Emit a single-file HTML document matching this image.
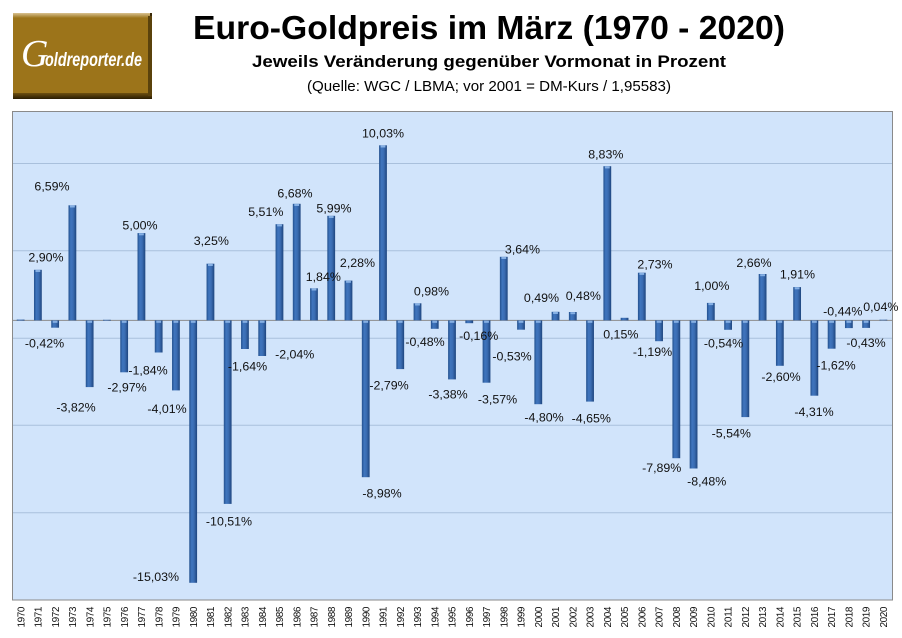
<!DOCTYPE html>
<html>
<head>
<meta charset="utf-8">
<style>
html,body{margin:0;padding:0;background:#fff;}
svg{display:block;}
.t{font-family:"Liberation Sans",sans-serif;}
.dl{font-family:"Liberation Sans",sans-serif;font-size:12.4px;fill:#111;text-anchor:middle;}
.yr{font-family:"Liberation Sans",sans-serif;font-size:10px;fill:#111;}
</style>
</head>
<body>
<svg width="902" height="638" viewBox="0 0 902 638" xmlns="http://www.w3.org/2000/svg">
<defs>
<linearGradient id="bar" x1="0" y1="0" x2="1" y2="0">
<stop offset="0" stop-color="#23508d"/>
<stop offset="0.3" stop-color="#3f75be"/>
<stop offset="0.6" stop-color="#3a6cb2"/>
<stop offset="1" stop-color="#1e457e"/>
</linearGradient>
<linearGradient id="logoTop" x1="0" y1="0" x2="0" y2="1">
<stop offset="0" stop-color="#d9c291"/>
<stop offset="1" stop-color="#9c741a"/>
</linearGradient>
<linearGradient id="logoBot" x1="0" y1="0" x2="0" y2="1">
<stop offset="0" stop-color="#6e5010"/>
<stop offset="1" stop-color="#2a1d02"/>
</linearGradient>
</defs>

<!-- Logo -->
<rect x="13" y="13" width="139" height="86" fill="#3a2a08"/>
<rect x="13" y="13" width="137" height="81" fill="#9c741a"/>
<rect x="13" y="13" width="137" height="5" fill="url(#logoTop)"/>
<rect x="13" y="93" width="139" height="6" fill="url(#logoBot)"/>
<rect x="148" y="16" width="4" height="80" fill="#5a420c"/>
<text x="21" y="66" fill="#fff" style="font-family:'Liberation Serif',serif;font-style:italic;font-size:38px;">G</text>
<text x="45" y="66" fill="#fff" class="t" style="font-style:italic;font-weight:bold;font-size:19px;" textLength="97" lengthAdjust="spacingAndGlyphs">oldreporter.de</text>

<!-- Titles -->
<text x="193" y="39" class="t" style="font-weight:bold;font-size:33px;" textLength="592" lengthAdjust="spacingAndGlyphs">Euro-Goldpreis im März (1970 - 2020)</text>
<text x="252" y="67" class="t" style="font-weight:bold;font-size:16.5px;" textLength="474" lengthAdjust="spacingAndGlyphs">Jeweils Veränderung gegenüber Vormonat in Prozent</text>
<text x="307" y="91" class="t" style="font-size:14.5px;" textLength="364" lengthAdjust="spacingAndGlyphs">(Quelle: WGC / LBMA; vor 2001 = DM-Kurs / 1,95583)</text>

<!-- Plot area -->
<rect x="12.5" y="111.5" width="880" height="488.5" fill="#d1e4fb" stroke="#8a8a8a" stroke-width="1"/>
<g stroke="#a9c0dc" stroke-width="1">
<line x1="13" y1="163.5" x2="892" y2="163.5"/>
<line x1="13" y1="250.8" x2="892" y2="250.8"/>
<line x1="13" y1="338.3" x2="892" y2="338.3"/>
<line x1="13" y1="425.2" x2="892" y2="425.2"/>
<line x1="13" y1="512.8" x2="892" y2="512.8"/>
</g>
<line x1="13" y1="320.4" x2="892" y2="320.4" stroke="#8c8c8c" stroke-width="1"/>

<!-- Bars -->
<g fill="url(#bar)">
<rect x="16.73" y="319.6" width="7.8" height="1"/>
<rect x="33.98" y="269.8" width="7.8" height="50.6"/>
<rect x="51.24" y="320.4" width="7.8" height="7.3"/>
<rect x="68.49" y="205.3" width="7.8" height="115.1"/>
<rect x="85.75" y="320.4" width="7.8" height="66.7"/>
<rect x="103.0" y="319.8" width="7.8" height="0.8"/>
<rect x="120.26" y="320.4" width="7.8" height="51.9"/>
<rect x="137.52" y="233.1" width="7.8" height="87.3"/>
<rect x="154.77" y="320.4" width="7.8" height="32.1"/>
<rect x="172.03" y="320.4" width="7.8" height="70.0"/>
<rect x="189.28" y="320.4" width="7.8" height="262.4"/>
<rect x="206.54" y="263.7" width="7.8" height="56.7"/>
<rect x="223.79" y="320.4" width="7.8" height="183.5"/>
<rect x="241.05" y="320.4" width="7.8" height="28.6"/>
<rect x="258.3" y="320.4" width="7.8" height="35.6"/>
<rect x="275.56" y="224.2" width="7.8" height="96.2"/>
<rect x="292.81" y="203.8" width="7.8" height="116.6"/>
<rect x="310.07" y="288.3" width="7.8" height="32.1"/>
<rect x="327.32" y="215.8" width="7.8" height="104.6"/>
<rect x="344.58" y="280.6" width="7.8" height="39.8"/>
<rect x="361.83" y="320.4" width="7.8" height="156.8"/>
<rect x="379.09" y="145.3" width="7.8" height="175.1"/>
<rect x="396.34" y="320.4" width="7.8" height="48.7"/>
<rect x="413.6" y="303.3" width="7.8" height="17.1"/>
<rect x="430.85" y="320.4" width="7.8" height="8.4"/>
<rect x="448.1" y="320.4" width="7.8" height="59.0"/>
<rect x="465.36" y="320.4" width="7.8" height="2.8"/>
<rect x="482.62" y="320.4" width="7.8" height="62.3"/>
<rect x="499.87" y="256.8" width="7.8" height="63.6"/>
<rect x="517.13" y="320.4" width="7.8" height="9.3"/>
<rect x="534.38" y="320.4" width="7.8" height="83.8"/>
<rect x="551.64" y="311.8" width="7.8" height="8.6"/>
<rect x="568.89" y="312.0" width="7.8" height="8.4"/>
<rect x="586.15" y="320.4" width="7.8" height="81.2"/>
<rect x="603.4" y="166.2" width="7.8" height="154.2"/>
<rect x="620.66" y="317.8" width="7.8" height="2.6"/>
<rect x="637.91" y="272.7" width="7.8" height="47.7"/>
<rect x="655.17" y="320.4" width="7.8" height="20.8"/>
<rect x="672.42" y="320.4" width="7.8" height="137.8"/>
<rect x="689.68" y="320.4" width="7.8" height="148.1"/>
<rect x="706.93" y="302.9" width="7.8" height="17.5"/>
<rect x="724.19" y="320.4" width="7.8" height="9.4"/>
<rect x="741.44" y="320.4" width="7.8" height="96.7"/>
<rect x="758.7" y="274.0" width="7.8" height="46.4"/>
<rect x="775.95" y="320.4" width="7.8" height="45.4"/>
<rect x="793.21" y="287.1" width="7.8" height="33.3"/>
<rect x="810.46" y="320.4" width="7.8" height="75.3"/>
<rect x="827.72" y="320.4" width="7.8" height="28.3"/>
<rect x="844.97" y="320.4" width="7.8" height="7.7"/>
<rect x="862.23" y="320.4" width="7.8" height="7.5"/>
<rect x="879.48" y="319.7" width="7.8" height="0.7"/>
</g>

<!-- Bar caps -->
<g fill="#86b0e4">
<rect x="35.5" y="270" width="4.8" height="2"/>
<rect x="52.7" y="320.8" width="4.8" height="2"/>
<rect x="70" y="205.5" width="4.8" height="2"/>
<rect x="87.3" y="320.8" width="4.8" height="2"/>
<rect x="121.8" y="320.8" width="4.8" height="2"/>
<rect x="139" y="233.3" width="4.8" height="2"/>
<rect x="156.3" y="320.8" width="4.8" height="2"/>
<rect x="173.5" y="320.8" width="4.8" height="2"/>
<rect x="190.8" y="320.8" width="4.8" height="2"/>
<rect x="208" y="264" width="4.8" height="2"/>
<rect x="225.3" y="320.8" width="4.8" height="2"/>
<rect x="242.6" y="320.8" width="4.8" height="2"/>
<rect x="259.8" y="320.8" width="4.8" height="2"/>
<rect x="277.1" y="224.4" width="4.8" height="2"/>
<rect x="294.3" y="204" width="4.8" height="2"/>
<rect x="311.6" y="288.5" width="4.8" height="2"/>
<rect x="328.8" y="216" width="4.8" height="2"/>
<rect x="346.1" y="280.8" width="4.8" height="2"/>
<rect x="363.3" y="320.8" width="4.8" height="2"/>
<rect x="380.6" y="145.5" width="4.8" height="2"/>
<rect x="397.8" y="320.8" width="4.8" height="2"/>
<rect x="415.1" y="303.5" width="4.8" height="2"/>
<rect x="432.3" y="320.8" width="4.8" height="2"/>
<rect x="449.6" y="320.8" width="4.8" height="2"/>
<rect x="484.1" y="320.8" width="4.8" height="2"/>
<rect x="501.4" y="257" width="4.8" height="2"/>
<rect x="518.6" y="320.8" width="4.8" height="2"/>
<rect x="535.9" y="320.8" width="4.8" height="2"/>
<rect x="553.1" y="312" width="4.8" height="2"/>
<rect x="570.4" y="312.2" width="4.8" height="2"/>
<rect x="587.6" y="320.8" width="4.8" height="2"/>
<rect x="604.9" y="166.4" width="4.8" height="2"/>
<rect x="639.4" y="272.9" width="4.8" height="2"/>
<rect x="656.7" y="320.8" width="4.8" height="2"/>
<rect x="673.9" y="320.8" width="4.8" height="2"/>
<rect x="691.2" y="320.8" width="4.8" height="2"/>
<rect x="708.4" y="303.1" width="4.8" height="2"/>
<rect x="725.7" y="320.8" width="4.8" height="2"/>
<rect x="742.9" y="320.8" width="4.8" height="2"/>
<rect x="760.2" y="274.2" width="4.8" height="2"/>
<rect x="777.4" y="320.8" width="4.8" height="2"/>
<rect x="794.7" y="287.3" width="4.8" height="2"/>
<rect x="812" y="320.8" width="4.8" height="2"/>
<rect x="829.2" y="320.8" width="4.8" height="2"/>
<rect x="846.5" y="320.8" width="4.8" height="2"/>
<rect x="863.7" y="320.8" width="4.8" height="2"/>
</g>

<!-- Data labels -->
<g class="dl">
<text x="46" y="261.3">2,90%</text>
<text x="44.5" y="347.3">-0,42%</text>
<text x="52" y="190.3">6,59%</text>
<text x="76" y="411.3">-3,82%</text>
<text x="127" y="391.3">-2,97%</text>
<text x="140" y="229.3">5,00%</text>
<text x="148" y="374.3">-1,84%</text>
<text x="167" y="413">-4,01%</text>
<text x="156" y="581">-15,03%</text>
<text x="211.3" y="245">3,25%</text>
<text x="229" y="525.3">-10,51%</text>
<text x="247.5" y="370.3">-1,64%</text>
<text x="294.7" y="358.3">-2,04%</text>
<text x="265.8" y="216">5,51%</text>
<text x="295" y="197.6">6,68%</text>
<text x="323.3" y="281">1,84%</text>
<text x="334" y="212.6">5,99%</text>
<text x="357.5" y="267">2,28%</text>
<text x="382" y="497.6">-8,98%</text>
<text x="383" y="137.6">10,03%</text>
<text x="389" y="389.3">-2,79%</text>
<text x="431.5" y="295.3">0,98%</text>
<text x="425" y="346">-0,48%</text>
<text x="448" y="398.6">-3,38%</text>
<text x="478.7" y="340">-0,16%</text>
<text x="497.5" y="403.6">-3,57%</text>
<text x="522.5" y="253.3">3,64%</text>
<text x="512" y="360.3">-0,53%</text>
<text x="544" y="421.6">-4,80%</text>
<text x="541.5" y="302">0,49%</text>
<text x="583.3" y="300">0,48%</text>
<text x="591.3" y="422.6">-4,65%</text>
<text x="605.8" y="158.3">8,83%</text>
<text x="620.8" y="338.6">0,15%</text>
<text x="655" y="268.3">2,73%</text>
<text x="652.5" y="356">-1,19%</text>
<text x="661.7" y="472">-7,89%</text>
<text x="706.7" y="485.3">-8,48%</text>
<text x="711.8" y="290">1,00%</text>
<text x="723.5" y="347.5">-0,54%</text>
<text x="731.3" y="437.6">-5,54%</text>
<text x="754" y="267">2,66%</text>
<text x="781" y="381">-2,60%</text>
<text x="797.5" y="278.6">1,91%</text>
<text x="814" y="416">-4,31%</text>
<text x="836" y="369.3">-1,62%</text>
<text x="842.8" y="315.3">-0,44%</text>
<text x="866" y="347">-0,43%</text>
<text x="880.8" y="311">0,04%</text>
</g>

<!-- Year labels -->
<g class="yr">
<text transform="translate(24.3,627.5) rotate(-90)" textLength="21">1970</text>
<text transform="translate(41.5,627.5) rotate(-90)" textLength="21">1971</text>
<text transform="translate(58.8,627.5) rotate(-90)" textLength="21">1972</text>
<text transform="translate(76,627.5) rotate(-90)" textLength="21">1973</text>
<text transform="translate(93.3,627.5) rotate(-90)" textLength="21">1974</text>
<text transform="translate(110.5,627.5) rotate(-90)" textLength="21">1975</text>
<text transform="translate(127.8,627.5) rotate(-90)" textLength="21">1976</text>
<text transform="translate(145,627.5) rotate(-90)" textLength="21">1977</text>
<text transform="translate(162.3,627.5) rotate(-90)" textLength="21">1978</text>
<text transform="translate(179.5,627.5) rotate(-90)" textLength="21">1979</text>
<text transform="translate(196.8,627.5) rotate(-90)" textLength="21">1980</text>
<text transform="translate(214,627.5) rotate(-90)" textLength="21">1981</text>
<text transform="translate(231.3,627.5) rotate(-90)" textLength="21">1982</text>
<text transform="translate(248.6,627.5) rotate(-90)" textLength="21">1983</text>
<text transform="translate(265.8,627.5) rotate(-90)" textLength="21">1984</text>
<text transform="translate(283.1,627.5) rotate(-90)" textLength="21">1985</text>
<text transform="translate(300.3,627.5) rotate(-90)" textLength="21">1986</text>
<text transform="translate(317.6,627.5) rotate(-90)" textLength="21">1987</text>
<text transform="translate(334.8,627.5) rotate(-90)" textLength="21">1988</text>
<text transform="translate(352.1,627.5) rotate(-90)" textLength="21">1989</text>
<text transform="translate(369.3,627.5) rotate(-90)" textLength="21">1990</text>
<text transform="translate(386.6,627.5) rotate(-90)" textLength="21">1991</text>
<text transform="translate(403.8,627.5) rotate(-90)" textLength="21">1992</text>
<text transform="translate(421.1,627.5) rotate(-90)" textLength="21">1993</text>
<text transform="translate(438.4,627.5) rotate(-90)" textLength="21">1994</text>
<text transform="translate(455.6,627.5) rotate(-90)" textLength="21">1995</text>
<text transform="translate(472.9,627.5) rotate(-90)" textLength="21">1996</text>
<text transform="translate(490.1,627.5) rotate(-90)" textLength="21">1997</text>
<text transform="translate(507.4,627.5) rotate(-90)" textLength="21">1998</text>
<text transform="translate(524.6,627.5) rotate(-90)" textLength="21">1999</text>
<text transform="translate(541.9,627.5) rotate(-90)" textLength="21">2000</text>
<text transform="translate(559.1,627.5) rotate(-90)" textLength="21">2001</text>
<text transform="translate(576.4,627.5) rotate(-90)" textLength="21">2002</text>
<text transform="translate(593.6,627.5) rotate(-90)" textLength="21">2003</text>
<text transform="translate(610.9,627.5) rotate(-90)" textLength="21">2004</text>
<text transform="translate(628.2,627.5) rotate(-90)" textLength="21">2005</text>
<text transform="translate(645.4,627.5) rotate(-90)" textLength="21">2006</text>
<text transform="translate(662.7,627.5) rotate(-90)" textLength="21">2007</text>
<text transform="translate(679.9,627.5) rotate(-90)" textLength="21">2008</text>
<text transform="translate(697.2,627.5) rotate(-90)" textLength="21">2009</text>
<text transform="translate(714.4,627.5) rotate(-90)" textLength="21">2010</text>
<text transform="translate(731.7,627.5) rotate(-90)" textLength="21">2011</text>
<text transform="translate(748.9,627.5) rotate(-90)" textLength="21">2012</text>
<text transform="translate(766.2,627.5) rotate(-90)" textLength="21">2013</text>
<text transform="translate(783.5,627.5) rotate(-90)" textLength="21">2014</text>
<text transform="translate(800.7,627.5) rotate(-90)" textLength="21">2015</text>
<text transform="translate(818,627.5) rotate(-90)" textLength="21">2016</text>
<text transform="translate(835.2,627.5) rotate(-90)" textLength="21">2017</text>
<text transform="translate(852.5,627.5) rotate(-90)" textLength="21">2018</text>
<text transform="translate(869.7,627.5) rotate(-90)" textLength="21">2019</text>
<text transform="translate(887,627.5) rotate(-90)" textLength="21">2020</text>
</g>
</svg>
</body>
</html>
